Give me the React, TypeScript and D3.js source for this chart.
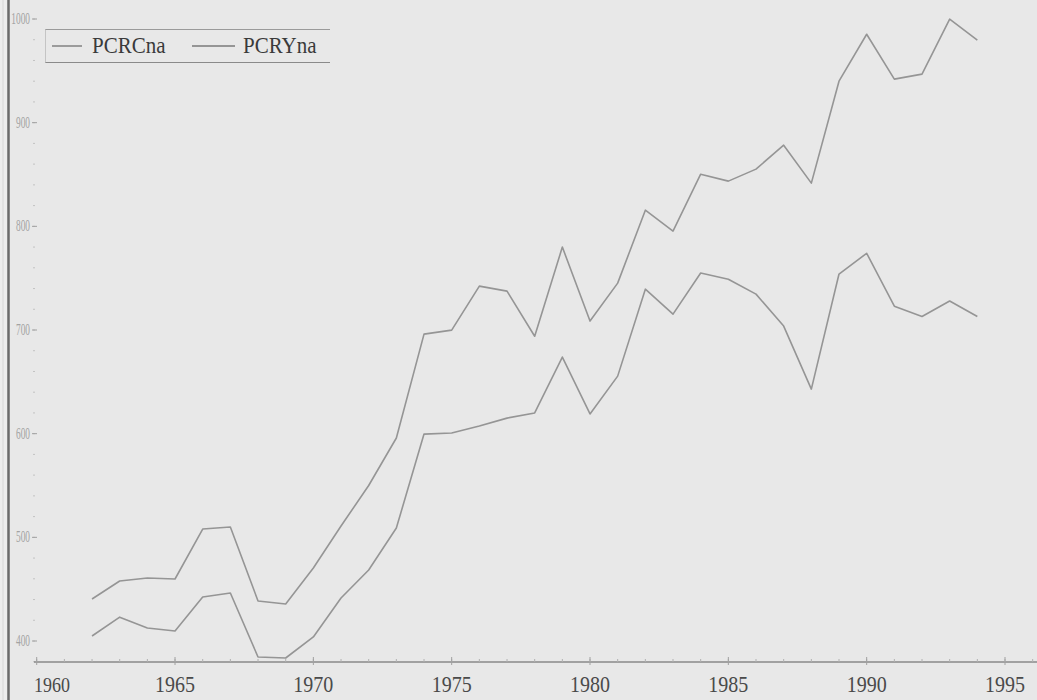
import React from "react";
import * as d3 from "d3";

const years = d3.range(1962, 1995);
const pcrcna = [404.8, 423, 412.5, 409.6, 442.4, 446.3, 384.6, 383.6, 403.9, 441.5, 468.5, 509, 599.6, 600.6, 607.3, 615, 620, 673.9, 619, 655.5, 739.4, 715.3, 755, 749, 734.6, 703.8, 643, 754, 774, 723, 713, 728, 713];
const pcryna = [440.5, 457.9, 460.8, 459.8, 508, 510, 438.6, 435.7, 470.4, 510.9, 550, 595.8, 696, 699.9, 742.3, 737.5, 694, 780, 708.6, 745.2, 815.6, 795.4, 850.3, 843.6, 855.2, 878.3, 841.7, 940, 985.3, 942, 946.8, 999.8, 979.6];
const seriesNames = ["PCRCna", "PCRYna"];
const xTickYears = [1960, 1965, 1970, 1975, 1980, 1985, 1990, 1995];
const yTickValues = [400, 500, 600, 700, 800, 900, 1000];

const W = 1037;
const H = 700;

export default function App() {
  const x = d3.scaleLinear().domain([1960, 1995]).range([36.7, 1005]);
  const y = d3.scaleLinear().domain([400, 1000]).range([641, 19]);
  const axisY = 662;
  const xStart = 34;
  const line = d3
    .line<number>()
    .x((_, i) => x(years[i]))
    .y((v) => y(v));
  const minorYears = d3.range(1960, 1997);
  const minorY = d3.range(380, 1021, 20);
  const lineColor = "#959595";
  const serif = "'Liberation Serif', 'DejaVu Serif', serif";
  const legend = [
    { name: seriesNames[0], x1: 52, x2: 82, tx: 92 },
    { name: seriesNames[1], x1: 192, x2: 235, tx: 243 },
  ];
  return (
    <svg
      width={W}
      height={H}
      style={{ position: "absolute", left: 0, top: 0, display: "block" }}
    >
      <rect x={0} y={0} width={W} height={H} fill="#e8e8e8" />
      <rect x={0} y={0} width={7} height={H} fill="#ececec" />
      <line x1={3} x2={3} y1={0} y2={H} stroke="#d6d6d6" strokeWidth={1} />
      <line x1={8.5} x2={8.5} y1={0} y2={H} stroke="#6a6a6a" strokeWidth={2.5} />

      {/* y minor ticks */}
      {minorY.map((v) => (
        <line key={"ym" + v} x1={33} x2={35} y1={y(v)} y2={y(v)} stroke="#c2c2c2" strokeWidth={1} />
      ))}
      {/* y major ticks and labels */}
      {yTickValues.map((v) => (
        <g key={"yt" + v} transform={`translate(30,${y(v) + 5})`}>
          <line x1={2} x2={7} y1={-5} y2={-5} stroke="#a0a0a0" strokeWidth={1} />
          <text
            x={0}
            y={0}
            textAnchor="end"
            fontFamily={serif}
            fontSize={17}
            fill="#a3a3a3"
            transform="scale(0.55,1)"
          >
            {v}
          </text>
        </g>
      ))}

      {/* x axis */}
      <line x1={xStart} x2={W} y1={axisY} y2={axisY} stroke="#8a8a8a" strokeWidth={1.3} />
      {minorYears.map((yr) => (
        <line key={"xm" + yr} x1={x(yr)} x2={x(yr)} y1={axisY - 3} y2={axisY} stroke="#b0b0b0" strokeWidth={1} />
      ))}
      {xTickYears.map((yr, i) => (
        <g key={"xt" + yr}>
          <line x1={x(yr)} x2={x(yr)} y1={axisY - 5} y2={axisY + 3} stroke="#a0a0a0" strokeWidth={1} />
          <g transform={`translate(${i === 0 ? xStart : x(yr)},692)`}>
            <text
              x={0}
              y={0}
              textAnchor={i === 0 ? "start" : "middle"}
              fontFamily={serif}
              fontSize={i === 0 ? 18 : 20}
              fill="#4a4a4a"
              transform="scale(1,1.2)"
            >
              {yr}
            </text>
          </g>
        </g>
      ))}

      {/* series lines */}
      <path d={line(pcryna) || ""} fill="none" stroke={lineColor} strokeWidth={1.6} strokeLinejoin="round" />
      <path d={line(pcrcna) || ""} fill="none" stroke={lineColor} strokeWidth={1.6} strokeLinejoin="round" />

      {/* legend */}
      <line x1={45} x2={330} y1={29.5} y2={29.5} stroke="#9a9a9a" strokeWidth={1} />
      <line x1={45} x2={330} y1={62.5} y2={62.5} stroke="#8a8a8a" strokeWidth={1.2} />
      <line x1={45.5} x2={45.5} y1={29.5} y2={62.5} stroke="#c4c4c4" strokeWidth={1} />
      {legend.map((l) => (
        <g key={l.name}>
          <line x1={l.x1} x2={l.x2} y1={46} y2={46} stroke="#7a7a7a" strokeWidth={1.4} />
          <g transform={`translate(${l.tx},53)`}>
            <text x={0} y={0} fontFamily={serif} fontSize={21} fill="#3a3a3a" transform="scale(1,1.1)">
              {l.name}
            </text>
          </g>
        </g>
      ))}
    </svg>
  );
}
